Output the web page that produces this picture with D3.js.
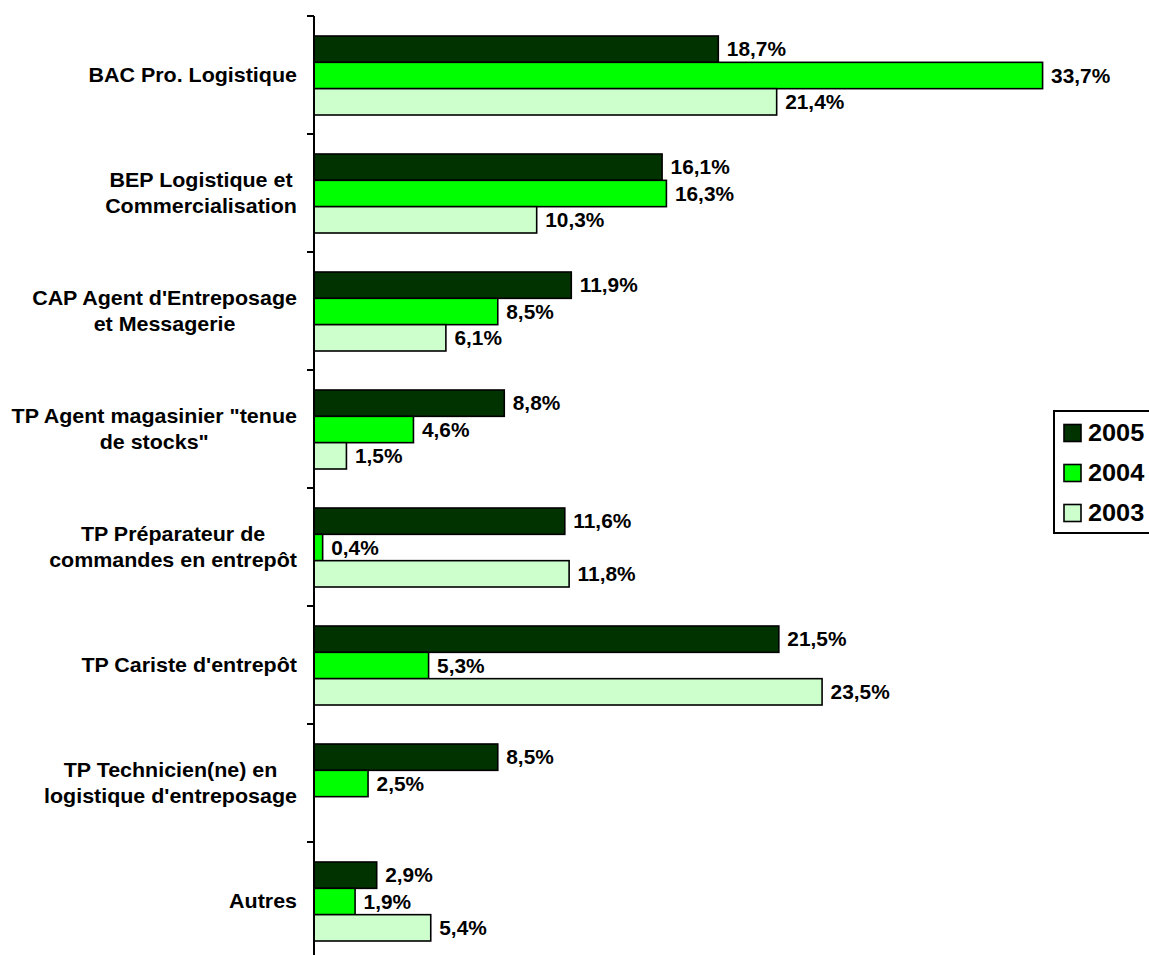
<!DOCTYPE html>
<html>
<head>
<meta charset="utf-8">
<script src="https://cdn.jsdelivr.net/npm/d3@7"></script>
<style>
  html, body { margin: 0; padding: 0; background: #fff; }
  svg { display: block; font-family: "Liberation Sans", Arial, sans-serif; font-weight: bold; }
</style>
</head>
<body>
<svg id="chart" width="1149" height="955"></svg>
<script>
// Formations (one row of bars per diploma)
const categories = [
  ["BAC Pro. Logistique"],
  ["BEP Logistique et", "Commercialisation"],
  ["CAP Agent d'Entreposage", "et Messagerie"],
  ["TP Agent magasinier \"tenue", "de stocks\""],
  ["TP Préparateur de", "commandes en entrepôt"],
  ["TP Cariste d'entrepôt"],
  ["TP Technicien(ne) en", "logistique d'entreposage"],
  ["Autres"]
];
const years = ["2005", "2004", "2003"];
const values2005 = [18.7, 16.1, 11.9, 8.8, 11.6, 21.5, 8.5, 2.9];
const values2004 = [33.7, 16.3, 8.5, 4.6, 0.4, 5.3, 2.5, 1.9];
const values2003 = [21.4, 10.3, 6.1, 1.5, 11.8, 23.5, null, 5.4];
const colors = ["#003300", "#00ff00", "#ccffcc"];

const series = [values2005, values2004, values2003];
const catKeys = categories.map(c => c.join(" "));

const svg = d3.select("#chart");

const x = d3.scaleLinear().domain([0, 40]).range([314, 314 + 40 * 21.62]);
const y = d3.scaleBand().domain(catKeys).range([16, 16 + 8 * 118]);
const yInner = d3.scaleBand().domain(years).range([20, 99]);

const fmt = v => d3.format(".1f")(v).replace(".", ",") + "%";

// Bars and value labels
catKeys.forEach((key, i) => {
  const g = svg.append("g").attr("transform", `translate(0,${y(key)})`);
  years.forEach((yr, s) => {
    const v = series[s][i];
    if (v == null) return;
    const y0 = yInner(yr);
    g.append("rect")
      .attr("x", x(0))
      .attr("y", y0)
      .attr("width", x(v) - x(0))
      .attr("height", yInner.bandwidth())
      .attr("fill", colors[s])
      .attr("stroke", "#000")
      .attr("stroke-width", 1.6);
    g.append("text")
      .attr("transform", `translate(${x(v) + 8.5},${y0 + yInner.bandwidth() / 2}) scale(1.07,1)`)
      .attr("dy", "0.36em")
      .attr("font-size", 19.5)
      .attr("fill", "#000")
      .text(fmt(v));
  });
});

// Category axis
const axisG = svg.append("g").attr("transform", `translate(${x(0)},0)`);
axisG.append("line")
  .attr("x1", 0).attr("x2", 0)
  .attr("y1", y.range()[0]).attr("y2", 955)
  .attr("stroke", "#000").attr("stroke-width", 2);
d3.range(catKeys.length + 1).forEach(i => {
  const ty = y.range()[0] + i * y.step();
  axisG.append("line")
    .attr("x1", -7).attr("x2", 0)
    .attr("y1", ty).attr("y2", ty)
    .attr("stroke", "#000").attr("stroke-width", 2);
});

// Category labels: lines centred on each other, block right-aligned near the axis
const labelRight = 297;
const lineGap = 26;
categories.forEach((lines, i) => {
  const cy = y(catKeys[i]) + y.bandwidth() / 2;
  const g = svg.append("g");
  const texts = lines.map((ln, k) =>
    g.append("text")
      .attr("font-size", 19.5)
      .attr("fill", "#000")
      .attr("text-anchor", "middle")
      .text(ln)
  );
  const sx = 1.1;
  const maxW = d3.max(texts, t => t.node().getComputedTextLength()) * sx;
  const cx = labelRight - maxW / 2;
  texts.forEach((t, k) => {
    const ly = cy + (k - (lines.length - 1) / 2) * lineGap;
    t.attr("transform", `translate(${cx},${ly}) scale(${sx},1)`).attr("dy", "0.36em");
  });
});

// Legend
const legend = svg.append("g");
legend.append("rect")
  .attr("x", 1054).attr("y", 411)
  .attr("width", 110).attr("height", 122)
  .attr("fill", "#fff").attr("stroke", "#000").attr("stroke-width", 2);
years.forEach((yr, s) => {
  const cy = 433 + s * 40;
  legend.append("rect")
    .attr("x", 1064).attr("y", cy - 8.5)
    .attr("width", 17).attr("height", 17)
    .attr("fill", colors[s]).attr("stroke", "#000").attr("stroke-width", 1.6);
  legend.append("text")
    .attr("transform", `translate(1088,${cy}) scale(1.1,1)`)
    .attr("dy", "0.36em")
    .attr("font-size", 23)
    .attr("fill", "#000")
    .text(yr);
});
</script>
</body>
</html>
